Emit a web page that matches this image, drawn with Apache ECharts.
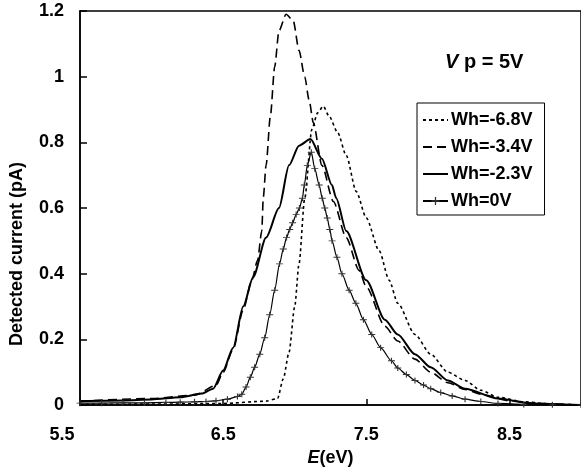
<!DOCTYPE html>
<html><head><meta charset="utf-8">
<script src="https://cdn.jsdelivr.net/npm/echarts@6/dist/echarts.min.js"></script>
<style>html,body{margin:0;padding:0;background:#fff}#c{width:581px;height:472px}</style>
</head><body><div id="c"></div>
<script>
// ---- data ----
var seriesNames = ['Wh=-6.8V', 'Wh=-3.4V', 'Wh=-2.3V', 'Wh=0V'];
var xTicks = [5.5, 6.5, 7.5, 8.5];
var yTicks = [0, 0.2, 0.4, 0.6, 0.8, 1, 1.2];

var e68 = [5.5, 6.0, 6.5, 6.8, 6.88, 6.92, 6.96, 7.0, 7.03, 7.07, 7.12, 7.16, 7.2, 7.24, 7.3, 7.36, 7.43, 7.5, 7.59, 7.66, 7.72, 7.84, 7.95, 8.07, 8.19, 8.3, 8.42, 8.6, 8.8, 9.0];
var i68 = [0.002, 0.003, 0.005, 0.012, 0.02, 0.08, 0.16, 0.30, 0.43, 0.63, 0.84, 0.89, 0.91, 0.88, 0.83, 0.76, 0.65, 0.57, 0.47, 0.38, 0.31, 0.215, 0.155, 0.10, 0.075, 0.045, 0.024, 0.01, 0.003, 0.0];

var e34 = [5.5, 6.0, 6.3, 6.45, 6.5, 6.57, 6.64, 6.7, 6.74, 6.77, 6.78, 6.8, 6.83, 6.86, 6.89, 6.94, 6.99, 7.03, 7.07, 7.1, 7.13, 7.19, 7.27, 7.36, 7.45, 7.5, 7.63, 7.72, 7.84, 7.95, 8.07, 8.19, 8.3, 8.49, 8.7, 9.0];
var i34 = [0.012, 0.02, 0.03, 0.06, 0.10, 0.17, 0.29, 0.38, 0.44, 0.53, 0.63, 0.73, 0.88, 1.03, 1.14, 1.19, 1.17, 1.08, 1.0, 0.93, 0.86, 0.73, 0.62, 0.51, 0.41, 0.36, 0.24, 0.195, 0.14, 0.10, 0.068, 0.048, 0.033, 0.014, 0.005, 0.0];

var e23 = [5.5, 5.8, 6.0, 6.2, 6.35, 6.43, 6.5, 6.57, 6.64, 6.71, 6.8, 6.89, 6.96, 7.03, 7.11, 7.19, 7.26, 7.29, 7.36, 7.5, 7.63, 7.72, 7.84, 7.95, 8.07, 8.19, 8.42, 8.65, 9.0];
var i23 = [0.012, 0.014, 0.017, 0.024, 0.035, 0.05, 0.105, 0.175, 0.30, 0.39, 0.51, 0.60, 0.73, 0.79, 0.81, 0.75, 0.67, 0.63, 0.53, 0.38, 0.26, 0.215, 0.155, 0.115, 0.075, 0.05, 0.02, 0.005, 0.0];

var e0 = [5.5, 5.65, 5.8, 5.95, 6.1, 6.2, 6.3, 6.38, 6.45, 6.53, 6.6, 6.63, 6.66, 6.69, 6.72, 6.756, 6.79, 6.825, 6.86, 6.894, 6.92, 6.943, 6.965, 6.985, 7.01, 7.033, 7.054, 7.067, 7.088, 7.116, 7.14, 7.171, 7.192, 7.21, 7.227, 7.245, 7.261, 7.295, 7.33, 7.38, 7.427, 7.48, 7.538, 7.6, 7.676, 7.72, 7.78, 7.84, 7.9, 7.95, 8.02, 8.1, 8.19, 8.3, 8.42, 8.6, 8.8, 9.0];
var i0 = [0.006, 0.006, 0.007, 0.007, 0.008, 0.009, 0.01, 0.011, 0.013, 0.018, 0.026, 0.033, 0.055, 0.085, 0.115, 0.155, 0.205, 0.275, 0.35, 0.43, 0.475, 0.51, 0.535, 0.555, 0.58, 0.60, 0.63, 0.67, 0.73, 0.77, 0.72, 0.67, 0.63, 0.60, 0.57, 0.535, 0.50, 0.45, 0.40, 0.35, 0.31, 0.26, 0.215, 0.175, 0.135, 0.113, 0.093, 0.075, 0.061, 0.05, 0.038, 0.028, 0.018, 0.011, 0.005, 0.002, 0.001, 0.0];

function pairs(xs, ys) { return xs.map(function (x, k) { return [x, ys[k]]; }); }

var FONT = '"Liberation Sans", Arial, sans-serif';
var chart = echarts.init(document.getElementById('c'), null, { renderer: 'canvas' });
var crossPath = 'path://M0,4.2L10,4.2L10,5.8L0,5.8Z M4.2,0L5.8,0L5.8,10L4.2,10Z';
var hidden = { opacity: 0 };

chart.setOption({
  animation: false,
  backgroundColor: '#fff',
  textStyle: { fontFamily: FONT },
  title: {
    text: '{v|V} p = 5V',
    left: 440, top: 47,
    textStyle: {
      fontFamily: FONT, fontSize: 20, fontWeight: 'bold', color: '#000',
      rich: { v: { fontFamily: FONT, fontSize: 20, fontWeight: 'bold', fontStyle: 'italic', color: '#000' } }
    }
  },
  legend: {
    orient: 'vertical', left: 417, top: 103,
    padding: [8, 12, 5, 5], itemGap: 9,
    itemWidth: 25, itemHeight: 10,
    borderColor: '#000', borderWidth: 1, backgroundColor: '#fff',
    textStyle: { fontFamily: FONT, fontSize: 18, fontWeight: 'bold', color: '#000', lineHeight: 18, padding: [0, 0, 0, -2] },
    data: [
      { name: seriesNames[0], itemStyle: hidden },
      { name: seriesNames[1], itemStyle: hidden },
      { name: seriesNames[2], itemStyle: hidden },
      { name: seriesNames[3] }
    ]
  },
  grid: { left: 79, top: 11, width: 505, height: 397, show: true, borderColor: '#000', borderWidth: 1.5, containLabel: false },
  xAxis: {
    type: 'value', min: xTicks[0], max: 9.0, interval: 1,
    name: '{i|E}(eV)', nameLocation: 'middle', nameGap: 41,
    nameTextStyle: {
      fontFamily: FONT, fontSize: 18, fontWeight: 'bold', color: '#000',
      rich: { i: { fontFamily: FONT, fontSize: 18, fontWeight: 'bold', fontStyle: 'italic', color: '#000' } }
    },
    axisLine: { show: true, onZero: false, lineStyle: { color: '#000', width: 1.5 } },
    axisTick: { show: true, inside: true, length: 6, lineStyle: { color: '#000', width: 1.5 } },
    splitLine: { show: false },
    axisLabel: {
      showMaxLabel: false, margin: 21,
      fontFamily: FONT, fontSize: 18, fontWeight: 'bold', color: '#000',
      formatter: function (v) { return v === xTicks[0] ? '{f|' + v.toFixed(1) + '}' : v.toFixed(1); },
      rich: { f: { fontFamily: FONT, fontSize: 18, fontWeight: 'bold', color: '#000', padding: [0, 36, 0, 0] } }
    }
  },
  yAxis: {
    type: 'value', min: yTicks[0], max: yTicks[yTicks.length - 1], interval: 0.2,
    name: 'Detected current (pA)', nameLocation: 'middle', nameGap: 54, nameRotate: 90,
    nameTextStyle: { fontFamily: FONT, fontSize: 18, fontWeight: 'bold', color: '#000', padding: [0, 92, 0, 0] },
    axisLine: { show: true, lineStyle: { color: '#000', width: 1.5 } },
    axisTick: { show: true, inside: true, length: 7, lineStyle: { color: '#000', width: 1.5 } },
    splitLine: { show: false },
    axisLabel: { margin: 16, fontFamily: FONT, fontSize: 18, fontWeight: 'bold', color: '#000' }
  },
  series: [
    { name: seriesNames[0], type: 'line', data: pairs(e68, i68), showSymbol: false, symbol: 'none', smooth: 0.25, smoothMonotone: 'x',
      lineStyle: { color: '#000', width: 1.6, type: [3, 3] }, itemStyle: { color: '#000' } },
    { name: seriesNames[1], type: 'line', data: pairs(e34, i34), showSymbol: false, symbol: 'none', smooth: 0.25, smoothMonotone: 'x',
      lineStyle: { color: '#000', width: 1.6, type: [9, 5] }, itemStyle: { color: '#000' } },
    { name: seriesNames[2], type: 'line', data: pairs(e23, i23), showSymbol: false, symbol: 'none', smooth: 0.25, smoothMonotone: 'x',
      lineStyle: { color: '#000', width: 2 }, itemStyle: { color: '#000' } },
    { name: seriesNames[3], type: 'line', data: pairs(e0, i0), showSymbol: true, symbol: crossPath, symbolSize: [7, 6], smooth: 0.25, smoothMonotone: 'x',
      lineStyle: { color: '#000', width: 1.2 }, itemStyle: { color: '#333', borderWidth: 0 } }
  ]
});
</script>
</body></html>
